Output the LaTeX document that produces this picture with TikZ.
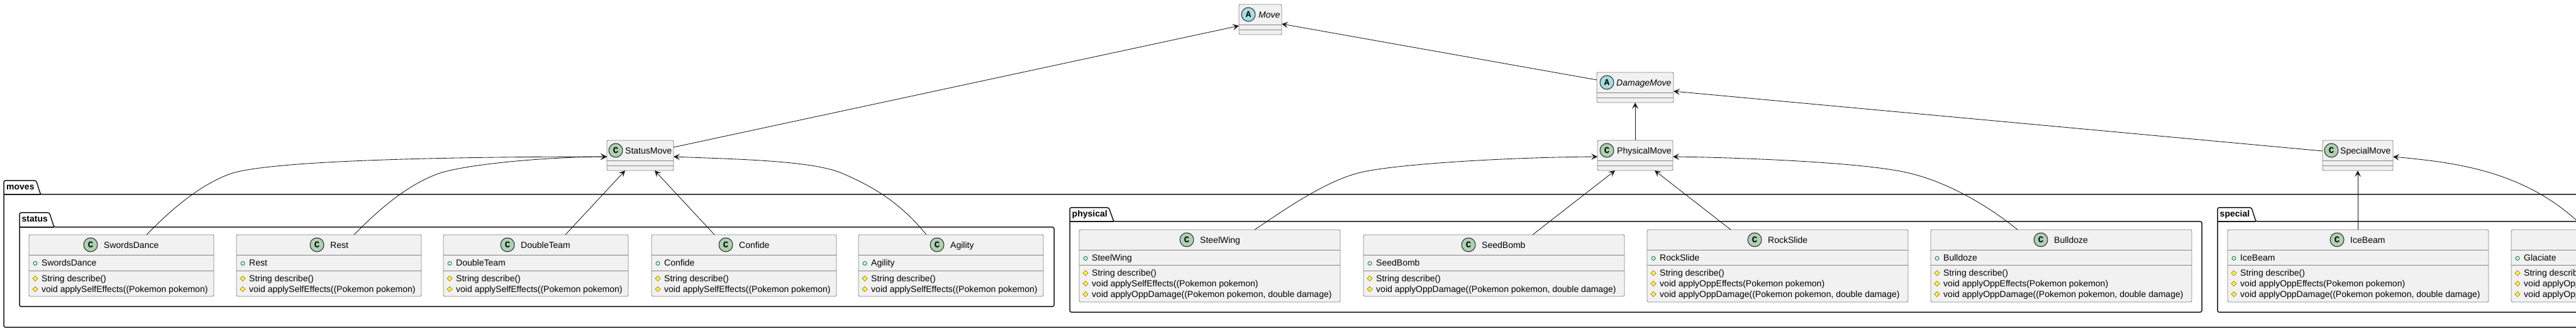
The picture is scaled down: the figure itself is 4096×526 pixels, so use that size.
\documentclass[tikz,border=0pt]{standalone}
\usepackage{fontspec}
\setmainfont{Liberation Sans}
\newfontfamily\monofam{Liberation Mono}
\usetikzlibrary{arrows.meta}
\definecolor{boxfill}{HTML}{F1F1F1}
\definecolor{boxline}{HTML}{858585}
\definecolor{inkdark}{HTML}{181818}
\definecolor{cgreen}{HTML}{ADD1B2}
\definecolor{acyan}{HTML}{A9DCDF}
\definecolor{fieldgreen}{HTML}{038048}
\definecolor{methfill}{HTML}{FFFF44}
\definecolor{methline}{HTML}{B38D22}
\tikzset{
  umlbox/.style={draw=boxline,fill=boxfill,line width=0.9pt,rounded corners=2.5pt,inner sep=0pt,outer sep=0pt,anchor=north west},
  divider/.style={draw=boxline,line width=0.9pt},
  pkg/.style={draw=black!90,line width=1.5pt,rounded corners=2.5pt},
  pkgrule/.style={draw=black!90,line width=1.5pt},
  pkgtitle/.style={font=\fontsize{14}{14}\selectfont\bfseries,inner sep=0pt,anchor=base west,text=black},
  lbl/.style={font=\fontsize{14}{14}\selectfont,inner sep=0pt,anchor=base west,text=black},
  badge/.style={circle,draw=inkdark,line width=0.9pt,minimum size=22pt,inner sep=0pt,font=\monofam\fontsize{14}{14}\selectfont\bfseries,text=black},
  inherit/.style={draw=inkdark,line width=0.85pt,-{Stealth[length=10pt,width=10pt,inset=4.5pt]}},
}
% name, left, top, right, bottom, divider1, divider2
\newcommand\klass[7]{%
  \node[umlbox,minimum width={(#4-#2)*1pt},minimum height={(#5-#3)*1pt}] (#1) at (#2,#3) {};
  \draw[divider] (#2,#6) -- (#4,#6);
  \draw[divider] (#2,#7) -- (#4,#7);
}
% name, letter colour, letter, circle x, circle y, text x, baseline, text
\newcommand\khead[8]{%
  \node[badge,fill=#2] (#1-badge) at (#4,#5) {#3};
  \node[lbl] (#1-title) at (#6,#7) {#8};
}
% name, left, baseline, text
\newcommand\kfield[4]{%
  \draw[fieldgreen,line width=0.9pt] (#2+10,#3-3.5) circle[radius=3pt];
  \node[lbl] (#1) at (#2+20,#3) {#4};
}
\newcommand\kmeth[4]{%
  \draw[methline,fill=methfill,line width=0.9pt] (#2+10,#3-8.5) -- (#2+14,#3-4.5) -- (#2+10,#3-0.5) -- (#2+6,#3-4.5) -- cycle;
  \node[lbl] (#1) at (#2+20,#3) {#4};
}
% package: left,top,tab1,tab2,rule,right,bottom
\newcommand\package[7]{%
  \draw[pkg] (#1,#5) -- (#1,#2) -- (#3,#2) -- (#4,#5) -- (#6,#5) -- (#6,#7) -- (#1,#7) -- cycle;
  \draw[pkgrule] (#1,#5) -- (#4,#5);
}
\newcommand\twobox[6]{% name,left,circle x,text x,title,method2
  \klass{#1}{#2}{373}{#2+294}{471}{405}{430}
  \khead{#1}{cgreen}{C}{#3}{389}{#4}{394.5}{#5}
  \kfield{#1-f}{#2}{422}{#5}
  \kmeth{#1-m1}{#2}{447}{String describe()}
  \kmeth{#1-m2}{#2}{464}{#6}
}
\newcommand\threebox[6]{% name,left,circle x,text x,title,method
  \klass{#1}{#2}{365}{#2+415}{480}{397}{421}
  \khead{#1}{cgreen}{C}{#3}{381}{#4}{386.5}{#5}
  \kfield{#1-f}{#2}{414}{#5}
  \kmeth{#1-m1}{#2}{438.5}{String describe()}
  \kmeth{#1-m2}{#2}{455.2}{#6}
  \kmeth{#1-m3}{#2}{472}{void applyOppDamage((Pokemon pokemon, double damage)}
}
\begin{document}
\begin{tikzpicture}[x=1pt,y=-1pt]
\useasboundingbox (0,0) rectangle (4096,526);
\clip (0,0) rectangle (4096,526);
% packages
\package{6}{287}{57.5}{64.5}{309}{4600}{520}
\node[pkgtitle] (movestitle) at (10,301.5) {moves};
\package{31}{338}{78.5}{86}{361}{1676}{487}
\node[pkgtitle] (statustitle) at (34.5,352.5) {status};
\package{1701}{330}{1763}{1771}{352}{3501}{496}
\node[pkgtitle] (physicaltitle) at (1704.5,345) {physical};
\package{3526}{330}{3580}{3587}{352}{4600}{496}
\node[pkgtitle] (specialtitle) at (3529.5,345) {special};
% top-level classes
\klass{mv}{1970}{7}{2038}{55}{39}{47}
\khead{mv}{acyan}{A}{1985}{23}{2001}{29}{\itshape Move}
\klass{dm}{2539}{115}{2661}{163}{147}{155}
\khead{dm}{acyan}{A}{2555}{131}{2570}{137}{\itshape DamageMove}
\klass{sm}{965}{223}{1071}{271}{255}{263}
\khead{sm}{cgreen}{C}{979}{239}{994}{245}{StatusMove}
\klass{pm}{2540}{223}{2660}{271}{255}{263}
\khead{pm}{cgreen}{C}{2555}{239}{2571}{245}{PhysicalMove}
\klass{spm}{3693}{223}{3805}{271}{255}{263}
\khead{spm}{cgreen}{C}{3707}{239}{3721}{245}{SpecialMove}
% status moves
\twobox{sd}{46}{144}{165}{SwordsDance}{void applySelfEffects((Pokemon pokemon)}
\twobox{re}{376}{504}{525}{Rest}{void applySelfEffects((Pokemon pokemon)}
\twobox{dt}{705}{807}{828}{DoubleTeam}{void applySelfEffects((Pokemon pokemon)}
\twobox{co}{1036}{1154}{1175}{Confide}{void applySelfEffects((Pokemon pokemon)}
\twobox{ag}{1365}{1490}{1511}{Agility}{void applySelfEffects((Pokemon pokemon)}
% physical moves
\threebox{sw}{1716}{1887}{1908}{SteelWing}{void applySelfEffects((Pokemon pokemon)}
\klass{sb}{2168}{373}{2583}{471}{405}{430}
\khead{sb}{cgreen}{C}{2335}{389}{2356}{394.5}{SeedBomb}
\kfield{sb-f}{2168}{422}{SeedBomb}
\kmeth{sb-m1}{2168}{447}{String describe()}
\kmeth{sb-m2}{2168}{464}{void applyOppDamage((Pokemon pokemon, double damage)}
\threebox{rs}{2619}{2790}{2811}{RockSlide}{void applyOppEffects(Pokemon pokemon)}
\threebox{bd}{3070}{3245}{3266}{Bulldoze}{void applyOppEffects(Pokemon pokemon)}
% special moves
\threebox{ib}{3542}{3716}{3737}{IceBeam}{void applyOppEffects(Pokemon pokemon)}
\klass{gl}{3993}{365}{4408}{480}{397}{421}
\kfield{gl-f}{3993}{414}{Glaciate}
\kmeth{gl-m1}{3993}{438.5}{String describe()}
\kmeth{gl-m2}{3993}{455.2}{void applyOppEffects(Pokemon pokemon)}
\kmeth{gl-m3}{3993}{472}{void applyOppDamage((Pokemon pokemon, double damage)}
% connectors: hierarchy
\draw[inherit] ([yshift=13pt]sm.east) -- ([yshift=-10pt]mv.west);
\draw[inherit] ([yshift=12pt]dm.west) -- ([yshift=-7pt]mv.east);
\draw[inherit] (pm.north) -- (dm.south);
\draw[inherit] ([yshift=7pt]spm.west) -- ([yshift=-6pt]dm.east);
\draw[inherit] (ib.north -| spm.south) -- (spm.south);
% connectors: status
\draw[inherit] ([xshift=40pt]sd.north) .. controls (285,320) and (325,292) .. (364,277) .. controls (420,255.5) and (700,249) .. ([yshift=-2pt]sm.west);
\draw[inherit] ([xshift=40pt]re.north) .. controls (615,320) and (655,292) .. (694,277) .. controls (730,263) and (850,250) .. ([yshift=-2pt]sm.west);
\draw[inherit] ([xshift=47pt]dt.north) -- ([xshift=-24pt]sm.south);
\draw[inherit] ([xshift=-47pt]co.north) -- ([xshift=23pt]sm.south);
\draw[inherit] ([xshift=-39pt]ag.north) .. controls (1430,320) and (1385,295) .. (1338,275) .. controls (1290,255) and (1170,253) .. ([yshift=-2pt]sm.east);
% connectors: physical
\draw[inherit] ([xshift=71.5pt]sw.north) .. controls (2040,335) and (2110,285) .. (2168,273) .. controls (2230,260) and (2400,250) .. ([yshift=-2pt]pm.west);
\draw[inherit] ([xshift=61.5pt]sb.north) -- ([xshift=-32pt]pm.south);
\draw[inherit] ([xshift=-74.5pt]rs.north) -- ([xshift=31pt]pm.south);
\draw[inherit] ([xshift=-69.5pt]bd.north) .. controls (3165,330) and (3100,290) .. (3035,275) .. controls (2975,260) and (2800,251) .. ([yshift=-2pt]pm.east);
% connectors: special
\draw[inherit] ([xshift=-88.5pt]gl.north) .. controls (4020,270) and (3900,258) .. ([yshift=-2pt]spm.east);
\end{tikzpicture}
\end{document}
